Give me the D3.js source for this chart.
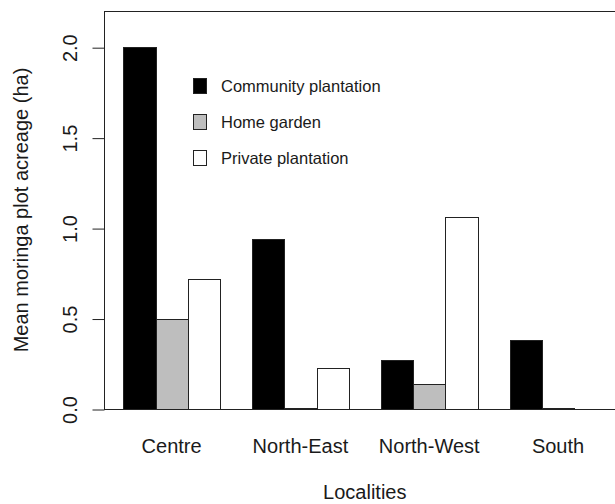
<!DOCTYPE html>
<html>
<head>
<meta charset="utf-8">
<script src="https://cdn.jsdelivr.net/npm/d3@7"></script>
<style>
  body { margin: 0; background: #fff; }
  svg { display: block; font-family: "Liberation Sans", Arial, sans-serif; }
</style>
</head>
<body>
<div id="chart"></div>
<script>
// localities on the x axis, one group of bars each
const localities = ['Centre', 'North-East', 'North-West', 'South'];
const seriesNames = ['Community plantation', 'Home garden', 'Private plantation'];
const seriesFill = ['#000000', '#bebebe', '#ffffff'];

// mean plot acreage (ha), one array per series, in locality order
const community = [2.0, 0.94, 0.27, 0.38];
const homeGarden = [0.5, 0.008, 0.136, 0.006];
const privatePl = [0.72, 0.228, 1.06, 0];

const yTicks = [0, 0.5, 1.0, 1.5, 2.0];

const width = 615, height = 504;
const plotLeft = 104, plotTop = 11, plotBottom = 409;

const svg = d3.select('#chart')
  .append('svg')
  .attr('width', width)
  .attr('height', height);

// R style barplot units: bar width 1, one empty unit before each group
const nGroups = localities.length, nSeries = seriesNames.length;
const xMin = 1, xMax = 1 + nGroups * (nSeries + 1) - 1;
const pad = (xMax - xMin) * 0.04;
const unit = 32.2;
const x = d3.scaleLinear()
  .domain([xMin - pad, xMax + pad])
  .range([plotLeft, plotLeft + (xMax - xMin + 2 * pad) * unit]);

const y = d3.scaleLinear()
  .domain([0, 2.2])
  .range([plotBottom, plotTop]);

const values = [community, homeGarden, privatePl];
const bars = [];
localities.forEach((loc, g) => {
  values.forEach((arr, s) => {
    bars.push({ loc, s, value: arr[g], left: 1 + g * (nSeries + 1) + s });
  });
});

svg.append('g')
  .selectAll('rect')
  .data(bars)
  .join('rect')
  .attr('x', d => Math.round(x(d.left)) + 0.5)
  .attr('y', d => Math.round(y(d.value)) + 0.5)
  .attr('width', d => Math.round(x(d.left + 1)) - Math.round(x(d.left)))
  .attr('height', d => Math.round(y(0)) - Math.round(y(d.value)))
  .attr('fill', d => seriesFill[d.s])
  .attr('stroke', '#222')
  .attr('stroke-width', 1);

// plot box
svg.append('rect')
  .attr('x', plotLeft + 0.5)
  .attr('y', Math.round(y(2.2)) + 0.5)
  .attr('width', x.range()[1] - plotLeft)
  .attr('height', Math.round(y(0)) - Math.round(y(2.2)))
  .attr('fill', 'none')
  .attr('stroke', '#222')
  .attr('stroke-width', 1);

// y axis
const yAxis = svg.append('g')
  .attr('transform', `translate(${plotLeft + 0.5},0.5)`)
  .call(d3.axisLeft(y).tickValues(yTicks).tickFormat(d3.format('.1f')).tickSize(12));
yAxis.select('.domain').remove();
yAxis.selectAll('.tick line').attr('stroke', '#222');
yAxis.selectAll('.tick text')
  .attr('x', null).attr('dy', null)
  .attr('transform', 'translate(-28,0) rotate(-90)')
  .attr('text-anchor', 'middle')
  .attr('fill', '#1a1a1a')
  .style('font-size', '20px')
  .style('font-family', '"Liberation Sans", Arial, sans-serif');

// group labels
svg.append('g')
  .selectAll('text')
  .data(localities)
  .join('text')
  .attr('x', (d, g) => x(1 + g * (nSeries + 1) + nSeries / 2))
  .attr('y', 453)
  .attr('text-anchor', 'middle')
  .attr('font-size', 20)
  .attr('fill', '#1a1a1a')
  .text(d => d);

// axis titles
svg.append('text')
  .attr('x', x((xMin + xMax) / 2))
  .attr('y', 499)
  .attr('text-anchor', 'middle')
  .attr('font-size', 20)
  .attr('fill', '#1a1a1a')
  .text('Localities');

svg.append('text')
  .attr('transform', `translate(28,${(plotTop + plotBottom) / 2}) rotate(-90)`)
  .attr('text-anchor', 'middle')
  .attr('font-size', 20)
  .attr('fill', '#1a1a1a')
  .text('Mean moringa plot acreage (ha)');

// legend
const legend = svg.append('g').attr('transform', 'translate(193,86)');
const row = legend.selectAll('g')
  .data(seriesNames)
  .join('g')
  .attr('transform', (d, i) => `translate(0,${i * 36})`);
row.append('rect')
  .attr('x', 0.5).attr('y', -7.5)
  .attr('width', 13).attr('height', 15)
  .attr('fill', (d, i) => seriesFill[i])
  .attr('stroke', '#222');
row.append('text')
  .attr('x', 28).attr('y', 6)
  .attr('font-size', 16.5)
  .attr('fill', '#1a1a1a')
  .text(d => d);
</script>
</body>
</html>
